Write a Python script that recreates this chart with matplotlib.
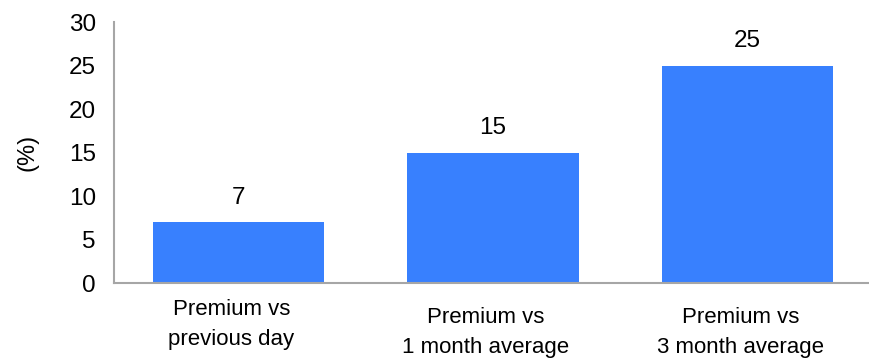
import matplotlib
matplotlib.use("Agg")
import matplotlib.pyplot as plt
from matplotlib.transforms import offset_copy

categories = ["Premium vs\nprevious day", "Premium vs\n1 month average", "Premium vs\n3 month average"]
values = [7, 15, 25]
y_ticks = [0, 5, 10, 15, 20, 25, 30]

plt.rcParams['font.family'] = ['Liberation Sans', 'DejaVu Sans']
FS_NUM = 17.5   # tick and value labels
FS_CAT = 16
BAR_COLOR = '#3880fe'
AXIS_COLOR = '#a6a6a6'

fig = plt.figure(figsize=(8.7, 3.61), dpi=100)
ax = fig.add_axes([0.131, 0.216, 0.869, 0.723])

x = list(range(len(categories)))
bars = ax.bar(x, values, width=0.672, color=BAR_COLOR)

# value labels above bars
for xi, v in zip(x, values):
    ax.annotate(str(v), (xi, v), xytext=(0, 13), textcoords='offset points',
                ha='center', va='baseline', fontsize=FS_NUM, color='black')

ax.set_xlim(-0.489, 2.481)
ax.set_ylim(0, 30)
ax.set_yticks(y_ticks)
ax.set_yticklabels([str(t) for t in y_ticks], fontsize=FS_NUM)
ax.tick_params(axis='y', length=0, pad=13)
ax.set_xticks([])

# category labels; first one sits a little higher than the others
label_drop = [0, 8, 8]
for xi, lab, d in zip(x, categories, label_drop):
    tr = offset_copy(ax.get_xaxis_transform(), fig=fig, x=-7, y=-(16 + d), units='dots')
    ax.text(xi, 0, lab, transform=tr, ha='center', va='top', fontsize=FS_CAT,
            linespacing=1.55, multialignment='center')

ax.set_ylabel('(%)', fontsize=17, labelpad=22)

for side in ['top', 'right']:
    ax.spines[side].set_visible(False)
for side in ['left', 'bottom']:
    ax.spines[side].set_color(AXIS_COLOR)
    ax.spines[side].set_linewidth(1.5)

fig.savefig('out.png', dpi=100)
